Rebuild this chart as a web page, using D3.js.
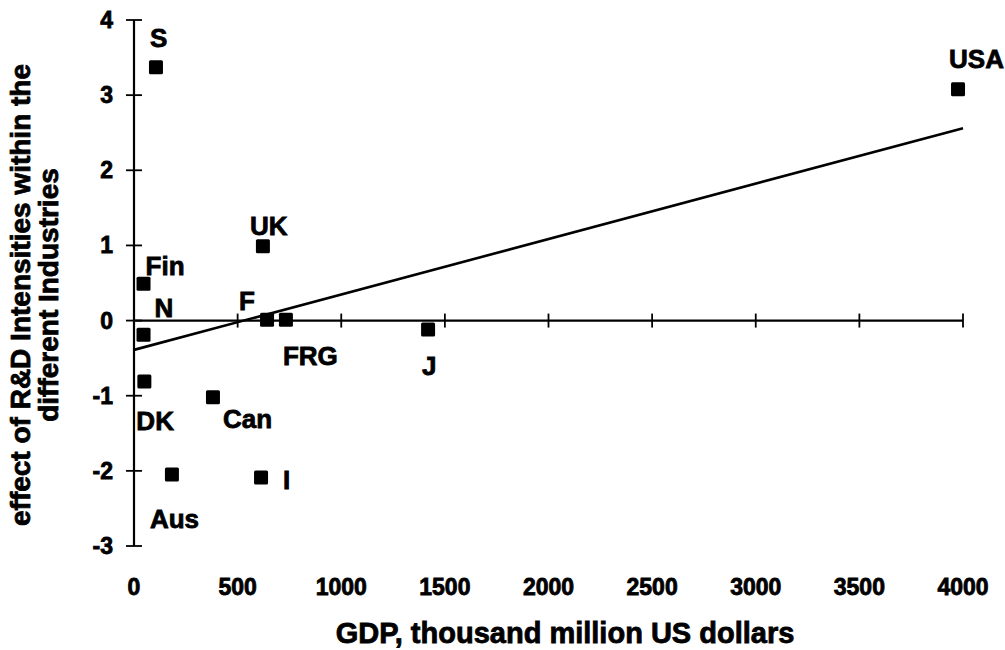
<!DOCTYPE html>
<html>
<head>
<meta charset="utf-8">
<script src="https://cdn.jsdelivr.net/npm/d3@7"></script>
<style>
  html, body { margin: 0; padding: 0; background: #fff; }
  svg text {
    font-family: "Liberation Sans", Arial, Helvetica, sans-serif;
    font-weight: bold; fill: #000; stroke: #000; stroke-width: 0.8;
  }
</style>
</head>
<body>
<svg id="chart" width="1005" height="650"></svg>
<script>
// Countries, GDP (thousand million US dollars) and effect of R&D intensities
const countries = ["S", "USA", "UK", "Fin", "N", "F", "FRG", "J", "DK", "Can", "I", "Aus"];
const gdp       = [106, 3976, 622, 46, 46, 642, 733, 1419, 50, 381, 613, 183];
const effect    = [3.37, 3.08, 0.99, 0.49, -0.19, 0.01, 0.01, -0.12, -0.81, -1.02, -2.09, -2.05];

// Fitted regression line endpoints
const fitX = [0, 4000];
const fitY = [-0.39, 2.56];

const xTicks = [0, 500, 1000, 1500, 2000, 2500, 3000, 3500, 4000];
const yTicks = [-3, -2, -1, 0, 1, 2, 3, 4];

// Label placement relative to each marker: [dx to text start, dy to baseline]
const labelOffset = {
  S:   [-6, -20], USA: [-9, -21], UK: [-13, -11], Fin: [2, -9],
  N:   [11, -18], F:   [-28, -10], FRG: [-3, 45], J:  [-6, 45],
  DK:  [-8, 49],  Can: [10, 31],   I:  [22, 11],  Aus: [-22, 53]
};

const svg = d3.select("#chart");
const x = d3.scaleLinear().domain([0, 4000]).range([134, 963]);
const y = d3.scaleLinear().domain([-3, 4]).range([546, 20]);

// Horizontal axis drawn along zero
const xAxis = svg.append("g").attr("transform", `translate(0,${y(0)})`);
xAxis.append("line").attr("x1", x(0)).attr("x2", x(4000))
  .attr("stroke", "#000").attr("stroke-width", 2.2);
xAxis.selectAll("line.tick").data(xTicks.slice(1)).join("line")
  .attr("class", "tick")
  .attr("x1", d => x(d)).attr("x2", d => x(d))
  .attr("y1", -7).attr("y2", 7)
  .attr("stroke", "#000").attr("stroke-width", 1.8);

svg.append("g").selectAll("text").data(xTicks).join("text")
  .attr("x", d => x(d)).attr("y", 595)
  .attr("text-anchor", "middle")
  .attr("font-size", 23)
  .text(d => d);

// Vertical axis at zero GDP
const yAxis = svg.append("g").attr("transform", `translate(${x(0)},0)`);
yAxis.append("line").attr("y1", y(4)).attr("y2", y(-3))
  .attr("stroke", "#000").attr("stroke-width", 2.2);
yAxis.selectAll("line.tick").data(yTicks).join("line")
  .attr("class", "tick")
  .attr("x1", -8).attr("x2", 8)
  .attr("y1", d => y(d)).attr("y2", d => y(d))
  .attr("stroke", "#000").attr("stroke-width", 1.8);

svg.append("g").selectAll("text").data(yTicks).join("text")
  .attr("x", 113).attr("y", d => y(d) + 8)
  .attr("text-anchor", "end")
  .attr("font-size", 23)
  .text(d => d);

// Regression line
svg.append("line")
  .attr("x1", x(fitX[0])).attr("y1", y(fitY[0]))
  .attr("x2", x(fitX[1])).attr("y2", y(fitY[1]))
  .attr("stroke", "#000").attr("stroke-width", 2.6);

// Country markers
const pts = countries.map((c, i) => ({ c, gx: gdp[i], ev: effect[i] }));
const size = 14;
svg.append("g").selectAll("rect").data(pts).join("rect")
  .attr("x", d => x(d.gx) - size / 2).attr("y", d => y(d.ev) - size / 2)
  .attr("width", size).attr("height", size)
  .attr("rx", 1.5)
  .attr("fill", "#000");

svg.append("g").selectAll("text").data(pts).join("text")
  .attr("x", d => x(d.gx) + labelOffset[d.c][0])
  .attr("y", d => y(d.ev) + labelOffset[d.c][1])
  .attr("font-size", 26)
  .text(d => d.c);

// Axis titles
svg.append("text")
  .attr("x", 565).attr("y", 643)
  .attr("text-anchor", "middle")
  .attr("font-size", 29)
  .text("GDP, thousand million US dollars");

const yTitle = svg.append("text")
  .attr("transform", "translate(0,295) rotate(-90)")
  .attr("text-anchor", "middle")
  .attr("font-size", 28);
yTitle.append("tspan").attr("x", 0).attr("y", 30).text("effect of R&D Intensities within the");
yTitle.append("tspan").attr("x", 0).attr("y", 58).text("different Industries");
</script>
</body>
</html>
